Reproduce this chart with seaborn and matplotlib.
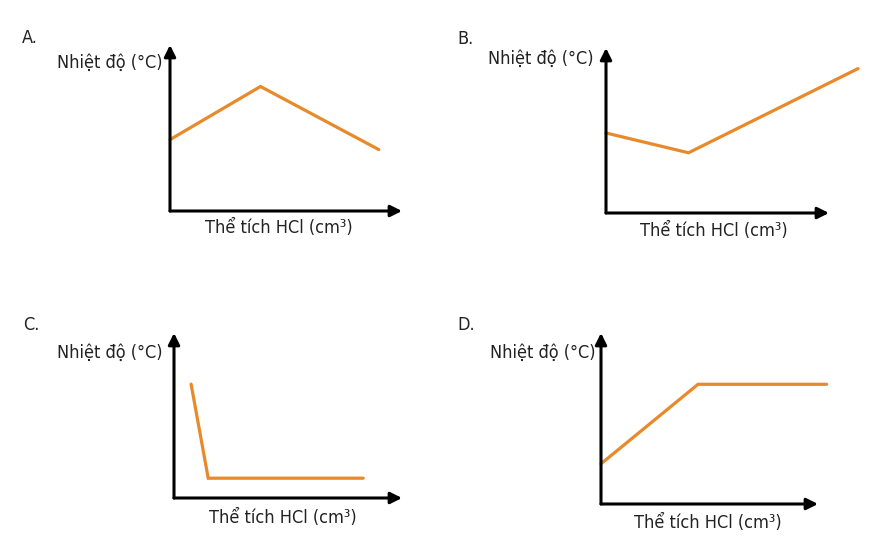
import matplotlib
matplotlib.use('Agg')
import matplotlib.pyplot as plt
import seaborn as sns

sns.set_style('white')
plt.rcParams['font.family'] = ['DejaVu Sans']
plt.rcParams['font.stretch'] = 'condensed'

# values, on a 0-10 scale along each arrow
panels = ['A.', 'B.', 'C.', 'D.']
a_x = [0, 3.9, 9.0]
a_y = [4.3, 7.5, 3.7]
b_x = [0, 3.7, 11.3]
b_y = [4.85, 3.65, 8.75]
c_x = [0.75, 1.5, 8.3]
c_y = [6.9, 1.2, 1.2]
d_x = [0, 4.47, 10.4]
d_y = [2.35, 7.0, 7.0]
series = [(a_x, a_y), (b_x, b_y), (c_x, c_y), (d_x, d_y)]

ylabel = 'Nhiệt độ (°C)'
xlabel = 'Thể tích HCl (cm³)'

W, H = 880, 543
# axis origin (px), arrow lengths, label anchors
boxes = [
    dict(o=(170, 211), w=232, h=166, tag=(22, 38), yl=(57, 63), xl=(205, 228)),
    dict(o=(606, 213), w=223, h=165, tag=(457, 39), yl=(488, 59), xl=(640, 231)),
    dict(o=(174, 498), w=228, h=165, tag=(23, 325), yl=(57, 353), xl=(209, 518)),
    dict(o=(601, 504), w=217, h=171, tag=(457, 325), yl=(490, 353), xl=(634, 523)),
]
orange = '#e8892a'

fig = plt.figure(figsize=(W / 100, H / 100), dpi=100)

for name, (xs, ys), b in zip(panels, series, boxes):
    ox, oy = b['o']
    ax = fig.add_axes([ox / W, (H - oy) / H, b['w'] / W, b['h'] / H])
    sns.lineplot(x=xs, y=ys, ax=ax, color=orange, lw=2.3, sort=False)
    for ln in ax.lines:
        ln.set_clip_on(False)
        ln.set_solid_joinstyle('miter')
    ax.set_xlim(0, 10)
    ax.set_ylim(0, 10)
    ax.set_xticks([])
    ax.set_yticks([])
    for s in ax.spines.values():
        s.set_visible(False)
    ax.patch.set_alpha(0)
    arrow = dict(arrowstyle='-|>', lw=2.2, color='black', mutation_scale=17,
                 shrinkA=0, shrinkB=0)
    ax.annotate('', xy=(1, 0), xytext=(0, 0), xycoords='axes fraction',
                arrowprops=arrow, annotation_clip=False)
    ax.annotate('', xy=(0, 1), xytext=(0, 0), xycoords='axes fraction',
                arrowprops=arrow, annotation_clip=False)

    tx, ty = b['tag']
    fig.text(tx / W, 1 - ty / H, name, ha='left', va='center', fontsize=13, color='#222222')
    tx, ty = b['yl']
    fig.text(tx / W, 1 - ty / H, ylabel, ha='left', va='center', fontsize=13, color='#222222')
    tx, ty = b['xl']
    fig.text(tx / W, 1 - ty / H, xlabel, ha='left', va='center', fontsize=13, color='#222222')

fig.savefig('out.png', dpi=100)
